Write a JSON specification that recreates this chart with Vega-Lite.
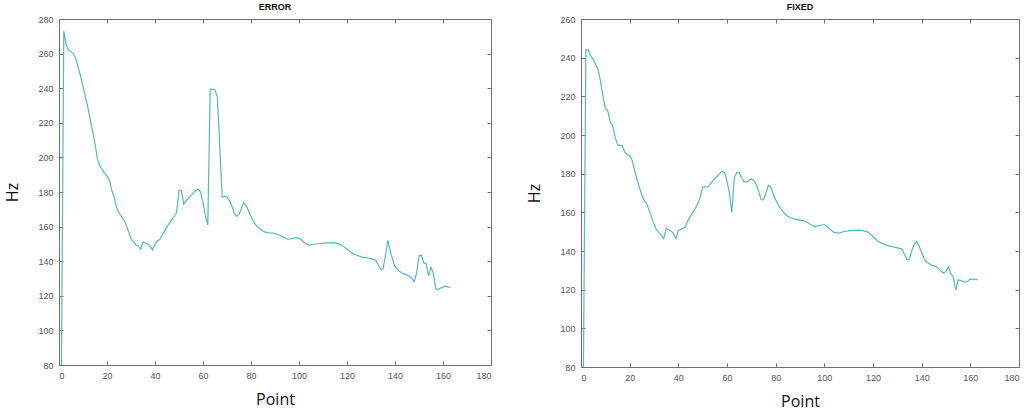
{
  "$schema": "https://vega.github.io/schema/vega-lite/v6.json",
  "padding": {"left": 4, "top": 3, "right": 8, "bottom": 4},
  "background": "white",
  "datasets": {
    "error": [
      {"x":1,"y":80},{"x":2,"y":273},{"x":3,"y":265},{"x":4,"y":262},{"x":5,"y":261},{"x":6,"y":260},{"x":7,"y":257},{"x":8,"y":252},{"x":9,"y":247},{"x":10,"y":241},
      {"x":11,"y":235},{"x":12,"y":229},{"x":13,"y":222},{"x":14,"y":215},{"x":15,"y":208},{"x":16,"y":199},{"x":17,"y":195},{"x":18,"y":193},{"x":19,"y":191},{"x":20,"y":189},
      {"x":21,"y":187},{"x":22,"y":181},{"x":23,"y":177},{"x":24,"y":171},{"x":25,"y":168},{"x":26,"y":166},{"x":27,"y":164},{"x":28,"y":161},{"x":29,"y":157},{"x":30,"y":153},
      {"x":31,"y":151},{"x":32,"y":149.5},{"x":33,"y":149},{"x":34,"y":147},{"x":35,"y":151},{"x":36,"y":150.5},{"x":37,"y":150},{"x":38,"y":148.5},{"x":39,"y":146.5},{"x":40,"y":150},
      {"x":41,"y":151.5},{"x":42,"y":152.5},{"x":43,"y":155},{"x":44,"y":157.5},{"x":45,"y":160},{"x":46,"y":162},{"x":47,"y":164},{"x":48,"y":166},{"x":49,"y":168},{"x":50,"y":181},
      {"x":51,"y":181},{"x":52,"y":173},{"x":53,"y":175},{"x":54,"y":176.5},{"x":55,"y":178},{"x":56,"y":179.5},{"x":57,"y":181},{"x":58,"y":181.5},{"x":59,"y":180},{"x":60,"y":174},
      {"x":61,"y":166},{"x":62,"y":161},{"x":63,"y":239.5},{"x":64,"y":239.5},{"x":65,"y":239},{"x":66,"y":235},{"x":68,"y":177},{"x":69,"y":177.5},{"x":70,"y":177},
      {"x":71,"y":175},{"x":72,"y":172},{"x":73,"y":168},{"x":74,"y":166},{"x":75,"y":167},{"x":76,"y":170.5},{"x":77,"y":174},{"x":78,"y":172},{"x":79,"y":169},{"x":80,"y":166},
      {"x":81,"y":163},{"x":82,"y":161},{"x":83,"y":159.5},{"x":84,"y":158.5},{"x":85,"y":157.5},{"x":86,"y":156.8},{"x":87,"y":156.5},{"x":88,"y":156.3},{"x":89,"y":156.2},{"x":90,"y":156},
      {"x":92,"y":155},{"x":94,"y":153.5},{"x":95,"y":152.7},{"x":97,"y":153},{"x":99,"y":153.6},{"x":100,"y":153.2},{"x":101,"y":152.5},{"x":102,"y":151},{"x":104,"y":149.3},{"x":106,"y":149.8},
      {"x":108,"y":150.1},{"x":110,"y":150.3},{"x":112,"y":150.6},{"x":114,"y":150.7},{"x":116,"y":150.3},{"x":117,"y":149.8},{"x":118,"y":149},{"x":120,"y":147},{"x":122,"y":144.8},{"x":124,"y":143.6},
      {"x":126,"y":142.4},{"x":128,"y":142},{"x":130,"y":141.5},{"x":132,"y":140.5},{"x":133,"y":138},{"x":134,"y":135.3},{"x":135,"y":135.5},{"x":136,"y":143},{"x":137,"y":152},{"x":138,"y":146},
      {"x":139,"y":141},{"x":140,"y":137},{"x":141,"y":135.3},{"x":142,"y":134},{"x":143,"y":133.2},{"x":144,"y":132.6},{"x":145,"y":132},{"x":146,"y":131.4},{"x":147,"y":130},{"x":148,"y":128.2},
      {"x":149,"y":133},{"x":150,"y":143},{"x":151,"y":143.5},{"x":152,"y":139},{"x":153,"y":138.5},{"x":154,"y":131.5},{"x":155,"y":136.4},{"x":156,"y":133},{"x":157,"y":124},{"x":158,"y":123.7},
      {"x":159,"y":124.5},{"x":160,"y":125},{"x":161,"y":125.6},{"x":162,"y":125.2},{"x":163,"y":124.7}
    ],
    "fixed": [
      {"x":1,"y":80},{"x":2,"y":244},{"x":3,"y":244},{"x":4,"y":241},{"x":5,"y":239},{"x":6,"y":236.5},{"x":7,"y":234},{"x":8,"y":228},{"x":9,"y":220},{"x":10,"y":214},
      {"x":11,"y":212.5},{"x":12,"y":207},{"x":13,"y":205},{"x":14,"y":199},{"x":15,"y":195},{"x":16,"y":194.6},{"x":17,"y":194.4},{"x":18,"y":191},{"x":19,"y":189.8},{"x":20,"y":189.4},
      {"x":21,"y":187},{"x":22,"y":182},{"x":23,"y":177},{"x":24,"y":173},{"x":25,"y":169},{"x":26,"y":166},{"x":27,"y":164.5},{"x":28,"y":161},{"x":29,"y":157.5},{"x":30,"y":154},
      {"x":31,"y":151},{"x":32,"y":149.5},{"x":33,"y":148.2},{"x":34,"y":146.5},{"x":35,"y":151.5},{"x":36,"y":151},{"x":37,"y":150.3},{"x":38,"y":149},{"x":39,"y":146.4},{"x":40,"y":150.5},
      {"x":41,"y":151.2},{"x":42,"y":151.8},{"x":43,"y":153},{"x":44,"y":156},{"x":45,"y":158},{"x":46,"y":160},{"x":47,"y":162},{"x":48,"y":164.5},{"x":49,"y":168},{"x":50,"y":173},
      {"x":51,"y":173.2},{"x":52,"y":173.2},{"x":53,"y":174.5},{"x":54,"y":176},{"x":55,"y":177.5},{"x":56,"y":178.7},{"x":57,"y":180},{"x":58,"y":181.2},{"x":59,"y":180.5},{"x":60,"y":176},
      {"x":61,"y":170},{"x":62,"y":160},{"x":63,"y":178},{"x":64,"y":180.6},{"x":65,"y":180.6},{"x":66,"y":178},{"x":67,"y":175.8},{"x":68,"y":175.8},{"x":69,"y":176.5},{"x":70,"y":177.4},
      {"x":71,"y":176.5},{"x":72,"y":174.5},{"x":73,"y":171},{"x":74,"y":166.5},{"x":75,"y":166.5},{"x":76,"y":170},{"x":77,"y":174},{"x":78,"y":173},{"x":79,"y":169.5},{"x":80,"y":166.5},
      {"x":81,"y":164},{"x":82,"y":162},{"x":83,"y":160.5},{"x":84,"y":159},{"x":85,"y":158},{"x":86,"y":157.3},{"x":88,"y":156.5},{"x":90,"y":156},{"x":92,"y":155.5},{"x":94,"y":154},
      {"x":96,"y":152.6},{"x":98,"y":153.2},{"x":100,"y":153.7},{"x":101,"y":153},{"x":102,"y":151.6},{"x":104,"y":149.6},{"x":106,"y":149.3},{"x":108,"y":150.1},{"x":110,"y":150.4},{"x":112,"y":150.7},
      {"x":114,"y":150.8},{"x":116,"y":150.5},{"x":118,"y":149.8},{"x":120,"y":147.5},{"x":122,"y":145},{"x":124,"y":143.8},{"x":126,"y":142.8},{"x":128,"y":142.2},{"x":130,"y":141.6},{"x":132,"y":141},
      {"x":133,"y":138},{"x":134,"y":135.5},{"x":135,"y":136},{"x":136,"y":140.5},{"x":137,"y":143.5},{"x":138,"y":145},{"x":139,"y":142.5},{"x":140,"y":139},{"x":141,"y":136},{"x":142,"y":134.4},
      {"x":143,"y":133.5},{"x":144,"y":132.7},{"x":145,"y":132.3},{"x":146,"y":131.8},{"x":147,"y":131},{"x":148,"y":129.5},{"x":149,"y":128.5},{"x":150,"y":129.5},{"x":151,"y":131.8},{"x":152,"y":128.3},
      {"x":153,"y":126.6},{"x":154,"y":119.8},{"x":155,"y":125},{"x":156,"y":124.8},{"x":157,"y":124.2},{"x":158,"y":124},{"x":159,"y":124.5},{"x":160,"y":125.6},{"x":161,"y":125.3},{"x":162,"y":125.5},
      {"x":163,"y":125}
    ]
  },
  "config": {
    "view": {"stroke": null},
    "axis": {
      "grid": false,
      "domainColor": "#707070",
      "tickColor": "#707070",
      "tickSize": -4,
      "labelColor": "#555555",
      "labelFont": "Liberation Sans",
      "labelFontSize": 9,
      "labelPadding": 10,
      "titleFont": "Open Sans",
      "titleFontSize": 16,
      "titleFontWeight": "normal",
      "titleColor": "#111111"
    },
    "title": {"font": "Liberation Sans", "fontSize": 9, "fontWeight": "bold", "color": "#111111", "offset": 3}
  },
  "spacing": 34,
  "hconcat": [
    {
      "title": "ERROR",
      "width": 432,
      "height": 346,
      "data": {"name": "error"},
      "layer": [
        {
          "mark": {"type": "line", "color": "#56b9c0", "strokeWidth": 1.2, "clip": true},
          "encoding": {
            "x": {"field": "x", "type": "quantitative", "scale": {"domain": [0, 180], "nice": false}, "axis": {"values": [0,20,40,60,80,100,120,140,160,180], "title": "Point", "titlePadding": 11}},
            "y": {"field": "y", "type": "quantitative", "scale": {"domain": [80, 280], "nice": false, "zero": false}, "axis": {"values": [80,100,120,140,160,180,200,220,240,260,280], "title": "Hz", "titlePadding": 17}}
          }
        },
        {
          "mark": {"type": "line", "strokeOpacity": 0},
          "encoding": {
            "x": {"field": "x", "type": "quantitative", "scale": {"domain": [0, 180], "nice": false}, "axis": {"orient": "top", "values": [0,20,40,60,80,100,120,140,160,180], "labels": false, "title": null}},
            "y": {"field": "y", "type": "quantitative", "scale": {"domain": [80, 280], "nice": false, "zero": false}, "axis": {"orient": "right", "values": [80,100,120,140,160,180,200,220,240,260,280], "labels": false, "title": null}}
          }
        }
      ],
      "resolve": {"axis": {"x": "independent", "y": "independent"}}
    },
    {
      "title": "FIXED",
      "width": 438,
      "height": 348,
      "data": {"name": "fixed"},
      "layer": [
        {
          "mark": {"type": "line", "color": "#56b9c0", "strokeWidth": 1.2, "clip": true},
          "encoding": {
            "x": {"field": "x", "type": "quantitative", "scale": {"domain": [0, 180], "nice": false}, "axis": {"values": [0,20,40,60,80,100,120,140,160,180], "title": "Point", "titlePadding": 11}},
            "y": {"field": "y", "type": "quantitative", "scale": {"domain": [80, 260], "nice": false, "zero": false}, "axis": {"values": [80,100,120,140,160,180,200,220,240,260], "title": "Hz", "titlePadding": 17}}
          }
        },
        {
          "mark": {"type": "line", "strokeOpacity": 0},
          "encoding": {
            "x": {"field": "x", "type": "quantitative", "scale": {"domain": [0, 180], "nice": false}, "axis": {"orient": "top", "values": [0,20,40,60,80,100,120,140,160,180], "labels": false, "title": null}},
            "y": {"field": "y", "type": "quantitative", "scale": {"domain": [80, 260], "nice": false, "zero": false}, "axis": {"orient": "right", "values": [80,100,120,140,160,180,200,220,240,260], "labels": false, "title": null}}
          }
        }
      ],
      "resolve": {"axis": {"x": "independent", "y": "independent"}}
    }
  ]
}
